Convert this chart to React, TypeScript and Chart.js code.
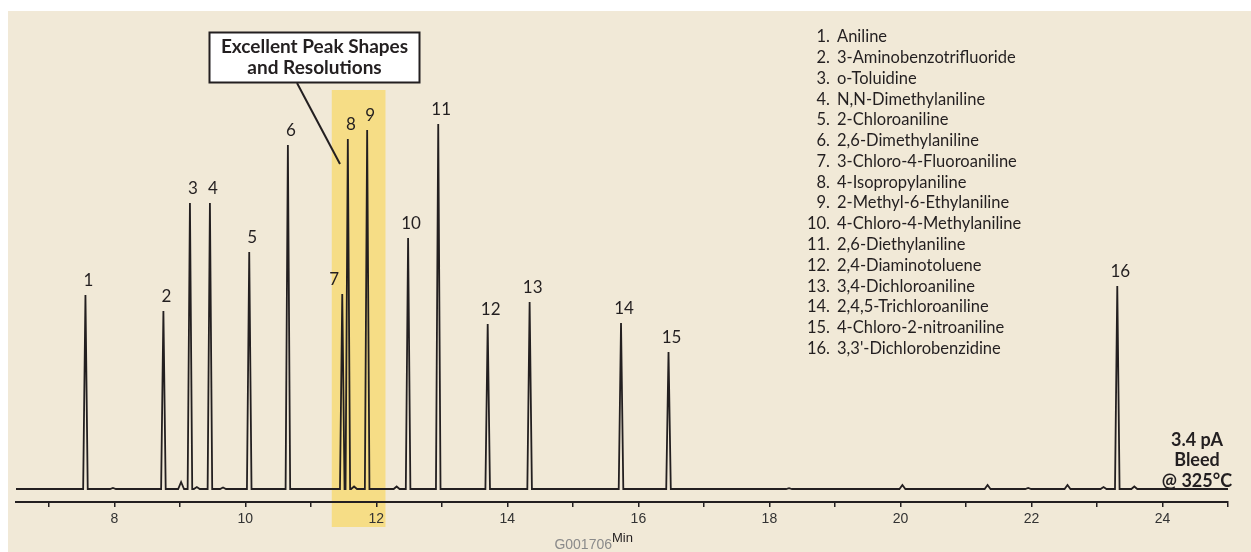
import React, { useEffect, useRef } from 'react';
import { Chart, registerables } from 'chart.js';

Chart.register(...registerables);

// peak table (time in min, height in trace units)
const peakNumbers = ['1', '2', '3', '4', '5', '6', '7', '8', '9', '10', '11', '12', '13', '14', '15', '16'];
const compoundNames = [
  'Aniline',
  '3-Aminobenzotrifluoride',
  'o-Toluidine',
  'N,N-Dimethylaniline',
  '2-Chloroaniline',
  '2,6-Dimethylaniline',
  '3-Chloro-4-Fluoroaniline',
  '4-Isopropylaniline',
  '2-Methyl-6-Ethylaniline',
  '4-Chloro-4-Methylaniline',
  '2,6-Diethylaniline',
  '2,4-Diaminotoluene',
  '3,4-Dichloroaniline',
  '2,4,5-Trichloroaniline',
  '4-Chloro-2-nitroaniline',
  "3,3'-Dichlorobenzidine",
];
const retentionTimes = [7.56, 8.75, 9.155, 9.46, 10.06, 10.65, 11.48, 11.565, 11.86, 12.485, 12.945, 13.70, 14.34, 15.735, 16.46, 23.31];
const peakHeights = [194, 178, 286, 286, 237, 344, 195, 350, 359, 251, 365, 165, 187, 166, 137, 203];

// small baseline bumps
const minorTimes = [7.98, 9.02, 9.26, 9.66, 11.66, 12.31, 18.3, 20.03, 21.33, 21.95, 22.55, 23.1, 23.57];
const minorHeights = [1, 7, 2, 1.5, 2.5, 2.5, 0.8, 4, 4, 1, 4, 2, 2.5];

const runStart = 6.5;
const runEnd = 25;
const xTicks = [7, 8, 9, 10, 11, 12, 13, 14, 15, 16, 17, 18, 19, 20, 21, 22, 23, 24, 25];
const tickLabels = ['8', '10', '12', '14', '16', '18', '20', '22', '24'];
const highlightRange = [11.32, 12.14];

const calloutLines = ['Excellent Peak Shapes', 'and Resolutions'];
const bleedLines = ['3.4 pA', 'Bleed', '@ 325°C'];

const INK = '#231f20';
const PAPER = '#f1e9d7';
const BAND = '#f6dd86';
const FONT = 'Lato, "Open Sans", sans-serif';

function buildTrace() {
  const peaks = retentionTimes.map((t, i) => ({ t, h: peakHeights[i], w: 0.035 }))
    .concat(minorTimes.map((t, i) => ({ t, h: minorHeights[i], w: 0.045 })))
    .sort((a, b) => a.t - b.t);
  const pts: { x: number; y: number }[] = [{ x: runStart, y: 0 }];
  peaks.forEach((p) => {
    pts.push({ x: p.t - p.w, y: 0 });
    pts.push({ x: p.t, y: p.h });
    pts.push({ x: p.t + p.w, y: 0 });
  });
  pts.push({ x: runEnd, y: 0 });
  return pts;
}

const decorPlugin = {
  id: 'decor',
  beforeDraw(chart: any) {
    const { ctx, width, height, scales } = chart;
    ctx.save();
    ctx.fillStyle = '#ffffff';
    ctx.fillRect(0, 0, width, height);
    ctx.fillStyle = PAPER;
    ctx.fillRect(8, 11, width - 8, height - 11);
    const x0 = scales.x.getPixelForValue(highlightRange[0]);
    const x1 = scales.x.getPixelForValue(highlightRange[1]);
    ctx.fillStyle = BAND;
    ctx.fillRect(x0, 90, x1 - x0, 437);
    ctx.restore();
  },
  afterDraw(chart: any) {
    const { ctx, scales } = chart;
    const xs = scales.x;
    const ys = scales.y;
    ctx.save();
    ctx.fillStyle = INK;
    ctx.textBaseline = 'middle';

    // peak numbers
    ctx.font = `17px ${FONT}`;
    ctx.textAlign = 'center';
    peakNumbers.forEach((n, i) => {
      const nudge = n === '7' ? -8 : 3;
      ctx.fillText(n, xs.getPixelForValue(retentionTimes[i]) + nudge, ys.getPixelForValue(peakHeights[i]) - 14);
    });

    // compound list
    ctx.font = `16.5px ${FONT}`;
    peakNumbers.forEach((n, i) => {
      const y = 37 + i * 20.77;
      ctx.textAlign = 'right';
      ctx.fillText(n + '.', 830, y);
      ctx.textAlign = 'left';
      ctx.fillText(compoundNames[i], 837, y);
    });

    // callout
    ctx.fillStyle = '#ffffff';
    ctx.fillRect(209.5, 32.5, 210, 50);
    ctx.strokeStyle = INK;
    ctx.lineWidth = 2;
    ctx.strokeRect(209.5, 32.5, 210, 50);
    ctx.beginPath();
    ctx.moveTo(297, 83);
    ctx.lineTo(340, 164);
    ctx.stroke();
    ctx.fillStyle = INK;
    ctx.font = `bold 19px ${FONT}`;
    ctx.textAlign = 'center';
    calloutLines.forEach((l, i) => ctx.fillText(l, 314.5, 47 + i * 21));

    // bleed note
    ctx.font = `bold 18px ${FONT}`;
    bleedLines.forEach((l, i) => ctx.fillText(l, 1197, 440 + i * 20.5));

    // figure code and axis unit
    ctx.font = '14px "Liberation Sans", sans-serif';
    ctx.fillStyle = '#8a8a8a';
    ctx.textAlign = 'right';
    ctx.fillText('G001706', 612, 545);
    ctx.fillStyle = INK;
    ctx.textAlign = 'left';
    ctx.font = '13px "Liberation Sans", sans-serif';
    ctx.fillText('Min', 612, 538);
    ctx.restore();
  },
};

const Chromatogram: React.FC = () => {
  const chartRef = useRef<HTMLCanvasElement>(null);
  const chartInstanceRef = useRef<Chart | null>(null);

  useEffect(() => {
    if (!chartRef.current) return;
    const ctx = chartRef.current.getContext('2d');
    if (!ctx) return;
    if (chartInstanceRef.current) chartInstanceRef.current.destroy();

    chartInstanceRef.current = new Chart(ctx, {
      type: 'line',
      data: {
        datasets: [{
          label: 'FID signal',
          data: buildTrace(),
          borderColor: INK,
          borderWidth: 1.8,
          pointRadius: 0,
          tension: 0,
          fill: false,
        }],
      },
      options: {
        animation: false,
        responsive: true,
        maintainAspectRatio: false,
        layout: { padding: { left: 16, right: 23, top: 19, bottom: 0 } },
        plugins: {
          legend: { display: false },
          tooltip: { enabled: false },
        },
        scales: {
          x: {
            type: 'linear',
            min: runStart,
            max: runEnd,
            afterBuildTicks: (s: any) => { s.ticks = xTicks.map((v) => ({ value: v })); },
            afterFit: (s: any) => { s.height = 50; },
            ticks: {
              autoSkip: false,
              maxRotation: 0,
              padding: 4,
              color: '#333333',
              font: { family: '"Liberation Sans", sans-serif', size: 14 },
              callback: (v: any) => (tickLabels.includes(String(v)) ? String(v) : ''),
            },
            grid: { drawOnChartArea: false, drawTicks: true, tickLength: 5, color: INK, lineWidth: 1.5 },
            border: { display: true, color: INK, width: 2 },
          },
          y: { display: false, min: -13, max: 470 },
        },
      },
      plugins: [decorPlugin],
    });

    return () => {
      if (chartInstanceRef.current) chartInstanceRef.current.destroy();
    };
  }, []);

  return (
    <div style={{ position: 'fixed', left: 0, top: 0, width: 1251, height: 552, background: '#fff' }}>
      <canvas ref={chartRef}></canvas>
    </div>
  );
};

export default function App() {
  return <Chromatogram />;
}
